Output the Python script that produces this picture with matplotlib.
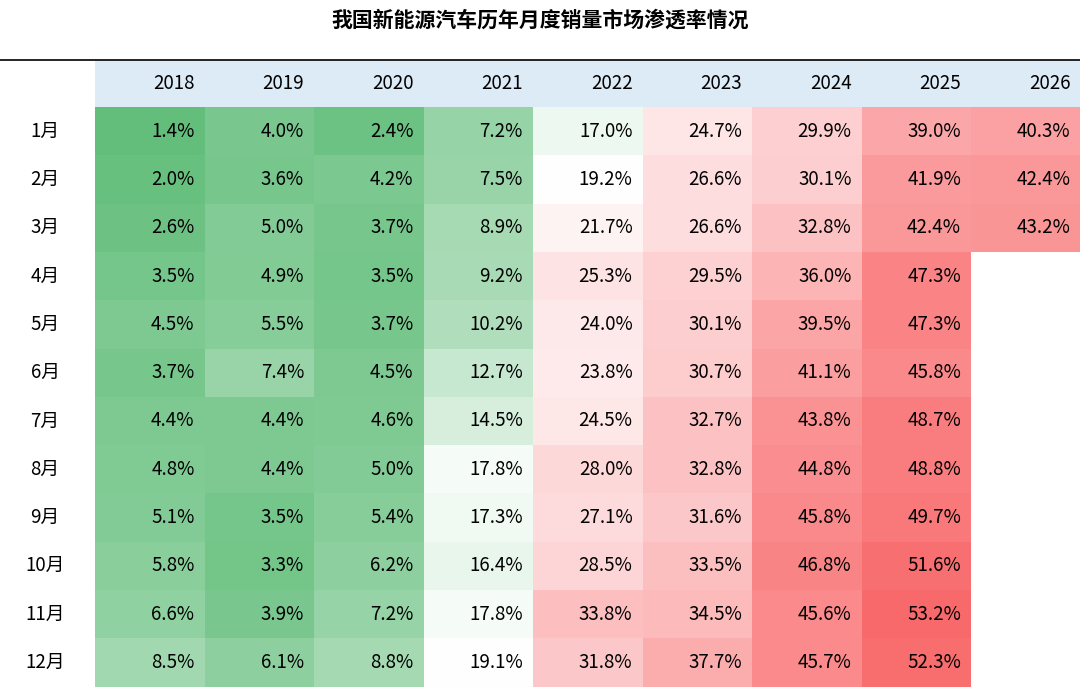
import matplotlib
matplotlib.use("Agg")
import matplotlib.pyplot as plt
from matplotlib.patches import Rectangle
from matplotlib.colors import LinearSegmentedColormap, TwoSlopeNorm
import numpy as np

plt.rcParams['font.family'] = ['Noto Sans CJK SC', 'DejaVu Sans']

title = "我国新能源汽车历年月度销量市场渗透率情况"
years = ["2018", "2019", "2020", "2021", "2022", "2023", "2024", "2025", "2026"]
months = ["1月", "2月", "3月", "4月", "5月", "6月", "7月", "8月", "9月", "10月", "11月", "12月"]
v2018 = [1.4, 2.0, 2.6, 3.5, 4.5, 3.7, 4.4, 4.8, 5.1, 5.8, 6.6, 8.5]
v2019 = [4.0, 3.6, 5.0, 4.9, 5.5, 7.4, 4.4, 4.4, 3.5, 3.3, 3.9, 6.1]
v2020 = [2.4, 4.2, 3.7, 3.5, 3.7, 4.5, 4.6, 5.0, 5.4, 6.2, 7.2, 8.8]
v2021 = [7.2, 7.5, 8.9, 9.2, 10.2, 12.7, 14.5, 17.8, 17.3, 16.4, 17.8, 19.1]
v2022 = [17.0, 19.2, 21.7, 25.3, 24.0, 23.8, 24.5, 28.0, 27.1, 28.5, 33.8, 31.8]
v2023 = [24.7, 26.6, 26.6, 29.5, 30.1, 30.7, 32.7, 32.8, 31.6, 33.5, 34.5, 37.7]
v2024 = [29.9, 30.1, 32.8, 36.0, 39.5, 41.1, 43.8, 44.8, 45.8, 46.8, 45.6, 45.7]
v2025 = [39.0, 41.9, 42.4, 47.3, 47.3, 45.8, 48.7, 48.8, 49.7, 51.6, 53.2, 52.3]
v2026 = [40.3, 42.4, 43.2]
cols = [v2018, v2019, v2020, v2021, v2022, v2023, v2024, v2025, v2026]

W, H = 1080, 691
fig = plt.figure(figsize=(W/100, H/100), dpi=100)
ax = fig.add_axes([0, 0, 1, 1])
ax.set_xlim(0, W); ax.set_ylim(H, 0); ax.axis('off')

cmap = LinearSegmentedColormap.from_list("gwr", ["#63BE7B", "#FFFFFF", "#F8696B"])
norm = TwoSlopeNorm(vmin=1.4, vcenter=19.0, vmax=53.2)

x0, cw = 95, 109.5
y0, hh, rh = 60, 47, 48.3

ax.text(540, 20, title, ha='center', va='center', fontsize=15, fontweight='bold')
ax.add_patch(Rectangle((x0, y0), W - x0, hh, color='#DDEBF7', lw=0))
ax.plot([0, W], [y0, y0], color='black', lw=1.2)
for j, y in enumerate(years):
    ax.text(x0 + cw*(j+1) - 10, y0 + hh/2, y, ha='right', va='center', fontsize=13.5)
for i, m in enumerate(months):
    yc = y0 + hh + rh*(i+0.5)
    ax.text(45, yc, m, ha='center', va='center', fontsize=13.5)
for j, col in enumerate(cols):
    for i, v in enumerate(col):
        yt = y0 + hh + rh*i
        ax.add_patch(Rectangle((x0 + cw*j, yt), cw, rh, color=cmap(norm(v)), lw=0))
        ax.text(x0 + cw*(j+1) - 10, yt + rh/2, f"{v:.1f}%", ha='right', va='center', fontsize=13.5)

fig.savefig("out.png", dpi=100)
